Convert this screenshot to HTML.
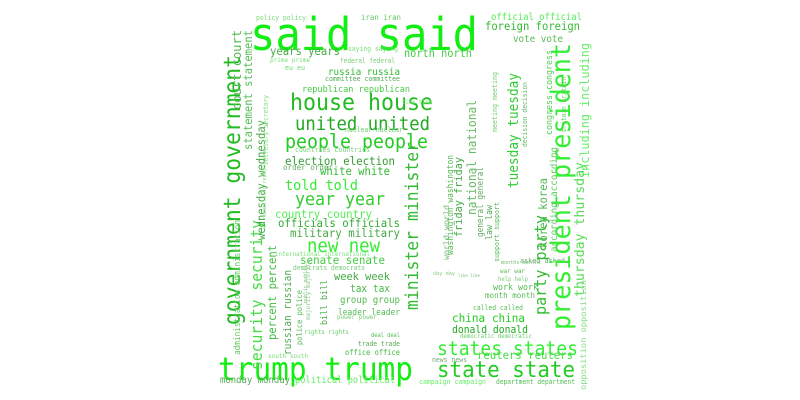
<!DOCTYPE html>
<html><head><meta charset="utf-8"><style>
html,body{margin:0;padding:0;background:#fff;width:800px;height:400px;overflow:hidden}
svg text{font-family:"DejaVu Sans Mono","Liberation Mono",monospace}
</style></head><body>
<svg id="cloud" width="800" height="400" viewBox="0 0 800 400"></svg>
<script>
// word, x, y(baseline / bottom for vertical), font size, vertical flag, length, color
const words = ["said said","trump trump","house house","united united","people people","told told","year year","new new","states states","state state","reuters reuters","donald donald","china china","campaign campaign","department department","monday monday","political political","officials officials","military military","country country","senate senate","election election","white white","years years","russia russia","republican republican","committee committee","north north","foreign foreign","official official","vote vote","week week","tax tax","group group","leader leader","deal deal","trade trade","office office","eu eu","prime prime","iran iran","policy policy","federal federal","saying saying","time time","countries countries","nuclear nuclear","month month","work work","called called","war war","asked asked","democratic democratic","news news","south south","rights rights","power power","international international","democrats democrats","order order","day day","like like","help help","months months","government government","president president","minister minister","security security","administration administration","party party","tuesday tuesday","thursday thursday","including including","congress congress","wednesday wednesday","statement statement","court court","percent percent","russian russian","police police","bill bill","public public","friday friday","washington washington","national national","support support","law law","korea korea","according according","decision decision","meeting meeting","opposition opposition","secretary secretary","republicans republicans","britain britain","world world","general general","majority majority"];
const xs = [250,218,290,295,285,285,295,307,437,437,477,452,452,419,496,220,295,278,290,275,300,285,320,270,328,302,325,404,485,491,513,334,350,340,338,371,358,345,285,270,361,256,340,348,402,295,345,485,493,473,500,520,460,432,268,304,337,275,293,283,433,458,498,501,240,570,418,262,240,546,518,584,589,552,265,252,241,276,291,302,327,307,462,453,476,499,492,547,557,527,497,586,268,266,566,449,483,310];
const ys = [50,380,110,130,148,190,205,252,355,377,359,333,322,384,384,383,383,227,237,218,264,165,175,55,75,92,81,57,30,20,42,280,292,303,315,337,346,355,70,62,20,20,63,51,104,152,132,298,290,310,273,263,338,362,358,334,319,256,270,170,275,277,281,264,325,330,310,370,355,315,188,297,178,135,240,150,110,340,355,345,325,303,237,255,215,262,240,248,252,147,132,390,165,220,132,260,237,320];
const sizes = [46,38,24,22,22,20,20,20,22,24,13,13,14,9,9,10,11,13,12,12,12,13,12,12,12,13,10,13,12,11,10,11,11,10,10,11,11,11,10,8,10,8,8,8,10,9,8,9,9,9,9,8,9,8,8,8,7,9,7,8,7,7,7,7,32,30,20,17,14,18,14,13,13,12,12,12,12,12,12,11,12,8,12,10,12,11,11,12,10,10,9,8,8,7,9,8,10,7];
const lens = [228,195,143,135,143,73,90,73,141,138,96,76,73,67,79,70,100,122,110,97,85,110,70,70,72,108,75,68,95,91,50,56,40,60,62,29,42,55,20,40,40,50,55,50,30,75,58,50,45,50,25,45,72,35,40,45,40,95,72,50,22,22,30,40,270,287,168,150,135,100,115,135,135,85,120,120,80,95,85,55,45,38,80,100,115,60,35,70,105,65,60,110,70,70,55,55,70,60];
const verts = [0,0,0,0,0,0,0,0,0,0,0,0,0,0,0,0,0,0,0,0,0,0,0,0,0,0,0,0,0,0,0,0,0,0,0,0,0,0,0,0,0,0,0,0,0,0,0,0,0,0,0,0,0,0,0,0,0,0,0,0,0,0,0,0,1,1,1,1,1,1,1,1,1,1,1,1,1,1,1,1,1,1,1,1,1,1,1,1,1,1,1,1,1,1,1,1,1,1];
const colors = ["#11ee11","#11ee11","#22bb22","#22aa22","#22cc22","#33ee33","#33cc33","#33ee33","#33ee33","#22cc22","#44dd44","#22aa22","#22cc22","#66ee66","#55bb55","#55aa55","#66ee66","#33aa33","#44aa44","#55ee55","#44cc44","#339933","#33bb33","#44aa44","#33bb33","#44cc44","#55aa55","#44cc44","#33bb33","#55ee55","#55bb55","#44aa44","#44bb44","#55bb55","#55bb55","#55bb55","#55aa55","#44bb44","#66dd66","#77dd77","#66cc66","#77dd77","#77cc77","#77dd77","#77ee77","#77cc77","#66cc66","#55bb55","#55bb55","#55bb55","#55bb55","#66aa66","#66cc66","#77aa77","#77dd77","#66cc66","#77cc77","#77dd77","#77cc77","#66aa66","#88cc88","#77bb77","#77cc77","#77bb77","#22bb22","#33ee33","#33bb33","#44dd44","#66cc66","#33bb33","#33cc33","#55dd55","#66ee66","#55cc55","#44aa44","#55bb55","#55bb55","#44bb44","#55aa55","#55bb55","#44aa44","#77bb77","#44aa44","#55bb55","#66bb66","#55bb55","#55aa55","#55bb55","#66cc66","#66bb66","#77cc77","#88dd88","#88dd88","#88dd88","#66cc66","#77bb77","#66aa66","#88cc88"];
const svg = document.getElementById('cloud');
const NS = 'http://www.w3.org/2000/svg';
for (let i = 0; i < words.length; i++) {
  const t = document.createElementNS(NS, 'text');
  
  
  const fit = lens[i] / (words[i].length * 0.602);
  const fs = Math.min(sizes[i], fit * 1.08);
  t.setAttribute('font-size', fs.toFixed(1));
  t.setAttribute('fill', colors[i]);
  t.setAttribute('textLength', lens[i]);
  t.setAttribute('lengthAdjust', 'spacingAndGlyphs');
  if (verts[i]) {
    t.setAttribute('transform', 'translate(' + xs[i] + ',' + ys[i] + ') rotate(-90)');
  } else {
    t.setAttribute('x', xs[i]);
    t.setAttribute('y', ys[i]);
  }
  t.textContent = words[i];
  svg.appendChild(t);
}
</script>
</body></html>
